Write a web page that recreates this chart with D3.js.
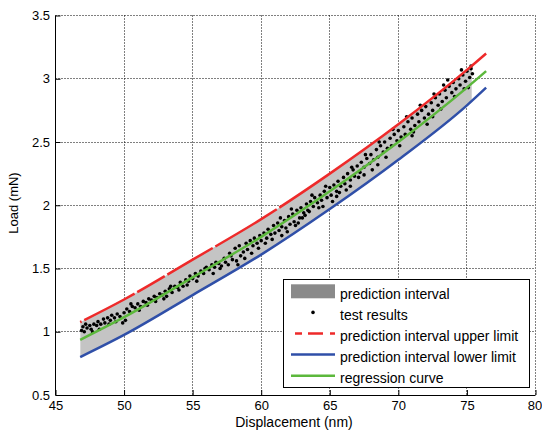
<!DOCTYPE html>
<html><head><meta charset="utf-8">
<script src="https://cdn.jsdelivr.net/npm/d3@7"></script>
<style>
body{margin:0;background:#fff}
text{font-family:"Liberation Sans",Arial,Helvetica,sans-serif;fill:#000}
</style>
</head><body>
<svg id="chart" width="542" height="441"></svg>
<script>
// ---- data ----
const xTicks = [45, 50, 55, 60, 65, 70, 75, 80];
const yTicks = [0.5, 1, 1.5, 2, 2.5, 3, 3.5];
const xTickLabels = ["45", "50", "55", "60", "65", "70", "75", "80"];
const yTickLabels = ["0.5", "1", "1.5", "2", "2.5", "3", "3.5"];
const curveX      = [46.8, 50, 55, 60, 65, 70, 75, 76.4];
const regression  = [0.936, 1.115, 1.43, 1.75, 2.11, 2.50, 2.93, 3.06];
const upperLimit  = [1.076, 1.255, 1.57, 1.89, 2.25, 2.64, 3.07, 3.20];
const lowerLimit  = [0.800, 0.975, 1.29, 1.61, 1.97, 2.36, 2.79, 2.93];
const intervalRange = [46.8, 75.35];
const redGapsX = [47.0, 50.87, 53.06, 56.56, 61.23];
const testX = [46.9,47.0,47.1,47.3,47.5,47.6,47.8,48.0,48.1,48.3,48.5,48.6,48.8,49.0,49.1,49.3,49.5,49.7,49.9,50.0,
  50.2,50.4,50.6,50.8,51.0,51.2,51.4,51.6,51.8,52.0,52.2,52.4,52.6,52.8,53.0,53.1,53.3,53.5,53.7,53.9,
  54.1,54.3,54.5,54.7,54.8,55.0,55.2,55.4,55.6,55.8,56.0,56.2,56.4,56.6,56.7,56.9,57.1,57.3,57.4,57.6,
  57.8,57.9,58.1,58.2,58.4,58.5,58.7,58.9,59.0,59.2,59.4,59.5,59.7,59.9,60.0,60.2,60.4,60.5,60.7,60.9,
  61.0,61.2,61.3,61.5,61.5,61.7,61.8,62.0,62.1,62.3,62.4,62.5,62.6,62.8,62.9,63.0,63.1,63.3,63.4,63.5,
  63.6,63.8,63.9,64.1,64.3,64.4,64.5,64.6,64.8,65.0,65.1,65.3,65.5,65.5,65.6,65.8,66.0,66.1,66.3,66.5,
  66.5,66.7,66.8,67.0,67.2,67.3,67.5,67.5,67.7,67.9,68.0,68.2,68.4,68.5,68.5,68.7,68.9,69.0,69.2,69.4,
  69.5,69.7,69.9,70.0,70.2,70.4,70.5,70.7,70.9,71.0,71.0,71.2,71.4,71.5,71.7,71.9,72.0,72.2,72.4,72.5,
  72.5,72.7,72.9,73.0,73.2,73.4,73.5,73.7,73.9,74.0,74.2,74.4,74.5,74.7,74.9,75.0,75.2,75.3,75.4,
  47.2,47.7,48.2,48.9,49.4,50.1,50.5,51.1,51.7,52.3,52.9,53.4,
  54.0,54.6,55.3,55.9,56.5,57.0,57.7,58.3,58.8,59.3,59.8,
  60.3,60.8,61.4,61.9,62.2,62.7,63.2,63.7,64.2,64.7,65.2,65.7,66.2,
  66.6,67.1,67.6,68.1,68.6,69.1,69.6,70.1,70.6,71.1,71.6,72.1,
  72.6,73.1,73.6,74.1,74.6,75.1,75.3,74.8,73.3];
const testY = [1.01,1.04,1.00,1.03,1.05,1.02,1.06,1.05,1.08,1.06,1.10,1.07,1.11,1.09,1.13,1.11,1.14,1.12,1.07,1.15,
  1.18,1.16,1.20,1.19,1.22,1.20,1.24,1.23,1.26,1.25,1.28,1.27,1.30,1.29,1.32,1.28,1.34,1.31,1.36,1.35,
  1.39,1.36,1.41,1.40,1.44,1.42,1.46,1.44,1.48,1.46,1.51,1.49,1.53,1.51,1.55,1.54,1.52,1.58,1.55,1.53,
  1.60,1.57,1.66,1.56,1.68,1.60,1.63,1.70,1.65,1.72,1.68,1.74,1.70,1.76,1.72,1.78,1.74,1.81,1.77,1.84,
  1.78,1.86,1.80,1.83,1.76,1.88,1.82,1.91,1.85,1.93,1.87,1.84,1.96,1.90,1.98,1.90,1.94,2.01,1.96,1.95,
  2.03,1.99,2.06,2.02,2.08,2.04,1.99,2.11,2.06,2.14,2.08,2.16,2.11,2.07,2.19,2.15,2.22,2.17,2.25,2.20,
  2.15,2.28,2.23,2.31,2.26,2.34,2.30,2.24,2.37,2.33,2.40,2.36,2.44,2.38,2.32,2.47,2.42,2.50,2.45,2.53,
  2.47,2.56,2.51,2.59,2.54,2.62,2.56,2.66,2.60,2.69,2.55,2.63,2.72,2.66,2.75,2.69,2.78,2.72,2.81,2.75,
  2.70,2.85,2.79,2.88,2.82,2.91,2.85,2.94,2.89,2.97,2.92,3.00,2.95,3.03,2.98,3.06,3.01,3.08,3.04,
  1.06,1.00,1.02,1.06,1.08,1.09,1.22,1.17,1.21,1.24,1.26,1.36,
  1.33,1.37,1.40,1.50,1.46,1.50,1.62,1.53,1.58,1.62,1.66,
  1.70,1.73,1.90,1.79,1.97,1.86,1.92,2.08,1.98,2.15,2.03,2.10,2.12,
  2.30,2.22,2.40,2.28,2.50,2.38,2.60,2.47,2.70,2.58,2.79,2.64,
  2.88,2.76,2.99,2.86,3.07,2.93,3.10,2.92,2.95];
const legendLabels = ["prediction interval", "test results", "prediction interval upper limit",
                      "prediction interval lower limit", "regression curve"];
const colors = {fill:"#c4c4c4", patch:"#8a8a8a", red:"#ee2a2a", blue:"#2f4fa8", green:"#5cb83c"};

// ---- scales ----
const svg = d3.select("#chart");
const x = d3.scaleLinear().domain([45, 80]).range([55.5, 535.5]);
const y = d3.scaleLinear().domain([0.5, 3.5]).range([395, 15.5]);
const crisp = v => Math.round(v - 0.5) + 0.5;

// grid
const grid = svg.append("g").attr("stroke", "#000").attr("stroke-width", 1).attr("stroke-dasharray", "1,2");
xTicks.slice(1).forEach(t => grid.append("line").attr("x1", crisp(x(t))).attr("x2", crisp(x(t))).attr("y1", y(3.5)).attr("y2", y(0.5)));
yTicks.slice(1).forEach(t => grid.append("line").attr("y1", crisp(y(t))).attr("y2", crisp(y(t))).attr("x1", x(45)).attr("x2", x(80)));

// interval fill (clipped to measured data range)
svg.append("clipPath").attr("id", "ivClip").append("rect")
  .attr("x", x(intervalRange[0])).attr("width", x(intervalRange[1]) - x(intervalRange[0]))
  .attr("y", 0).attr("height", 441);
const idx = d3.range(curveX.length);
const area = d3.area().x(i => x(curveX[i])).y0(i => y(lowerLimit[i])).y1(i => y(upperLimit[i])).curve(d3.curveMonotoneX);
svg.append("path").attr("d", area(idx)).attr("fill", colors.fill).attr("clip-path", "url(#ivClip)");

// test points
svg.append("g").selectAll("circle").data(testX.map((v, i) => [v, testY[i]])).join("circle")
  .attr("cx", d => x(d[0])).attr("cy", d => y(d[1])).attr("r", 1.8).attr("fill", "#000");

// curves
const mk = arr => d3.line().x(i => x(curveX[i])).y(i => y(arr[i])).curve(d3.curveMonotoneX)(idx);
svg.append("path").attr("d", mk(lowerLimit)).attr("fill", "none").attr("stroke", colors.blue).attr("stroke-width", 2.5);
const red = svg.append("path").attr("d", mk(upperLimit)).attr("fill", "none").attr("stroke", colors.red).attr("stroke-width", 2.5);
svg.append("path").attr("d", mk(regression)).attr("fill", "none").attr("stroke", colors.green).attr("stroke-width", 2.5);

// red dash gaps
(function () {
  const node = red.node(), L = node.getTotalLength();
  const lenAt = px => { let lo = 0, hi = L; for (let k = 0; k < 40; k++) { const m = (lo + hi) / 2; if (node.getPointAtLength(m).x < px) lo = m; else hi = m; } return lo; };
  const dash = []; let prev = 0;
  redGapsX.forEach(v => { const l = lenAt(x(v)); dash.push(Math.max(0, l - 1.5 - prev), 3); prev = l + 1.5; });
  dash.push(L);
  red.attr("stroke-dasharray", dash.join(","));
})();

// axes
const fs = "13px";
const ax = svg.append("g").attr("transform", "translate(0,395)")
  .call(d3.axisBottom(x).tickValues(xTicks).tickFormat((d, i) => xTickLabels[i]).tickSizeInner(-5).tickSizeOuter(0).tickPadding(6));
const ay = svg.append("g").attr("transform", "translate(55.5,0)")
  .call(d3.axisLeft(y).tickValues(yTicks).tickFormat((d, i) => yTickLabels[i]).tickSizeInner(-5).tickSizeOuter(0).tickPadding(5.5));
[ax, ay].forEach(a => {
  a.select(".domain").attr("stroke", "#000").attr("stroke-width", 1);
  a.selectAll(".tick line").attr("stroke", "#000");
  a.selectAll(".tick text").style("font-size", fs).style("font-family", '"Liberation Sans",Arial,sans-serif');
});
ax.selectAll(".tick text").filter((d, i) => i === xTicks.length - 1).attr("dx", "-1");
ax.select(".domain").attr("d", `M${x(45)},0.5H${x(80)}`);
ay.select(".domain").attr("d", `M0,${y(0.5)}V${y(3.5)}`);

// axis labels
svg.append("text").attr("x", 294).attr("y", 427).attr("text-anchor", "middle").style("font-size", "14px").text("Displacement (nm)");
svg.append("text").attr("transform", "translate(18,203) rotate(-90)").attr("text-anchor", "middle").style("font-size", "13px").text("Load (mN)");

// legend
const lg = svg.append("g");
lg.append("rect").attr("x", 283.5).attr("y", 279.5).attr("width", 246).attr("height", 108).attr("fill", "#fff").attr("stroke", "#000");
const symY = i => 291.3 + i * 21.1;
lg.append("rect").attr("x", 291).attr("y", symY(0) - 7).attr("width", 44).attr("height", 14).attr("fill", colors.patch);
lg.append("circle").attr("cx", 313).attr("cy", symY(1)).attr("r", 1.8).attr("fill", "#000");
lg.append("line").attr("x1", 291).attr("x2", 335).attr("y1", symY(2)).attr("y2", symY(2)).attr("stroke", colors.red).attr("stroke-width", 2.5).attr("stroke-dasharray", "0,4,7,6,15,7,6,100");
lg.append("line").attr("x1", 291).attr("x2", 335).attr("y1", symY(3)).attr("y2", symY(3)).attr("stroke", colors.blue).attr("stroke-width", 2.5);
lg.append("line").attr("x1", 291).attr("x2", 335).attr("y1", symY(4)).attr("y2", symY(4)).attr("stroke", colors.green).attr("stroke-width", 2.5);
legendLabels.forEach((t, i) => lg.append("text").attr("x", 340).attr("y", symY(i) + 7.5).style("font-size", "14px").text(t));
</script>
</body></html>
